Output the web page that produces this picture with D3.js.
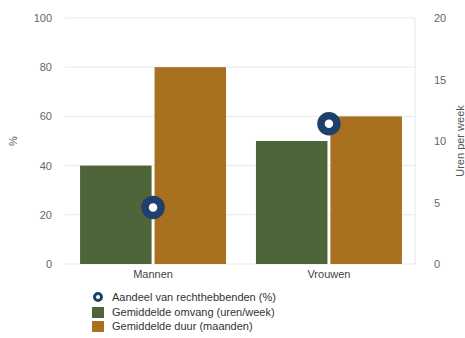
<!DOCTYPE html>
<html>
<head>
<script src="https://d3js.org/d3.v7.min.js"></script>
<style>
  body { margin: 0; background: #fff; font-family: "Liberation Sans", Arial, sans-serif; }
</style>
</head>
<body>
<div id="chart"></div>
<script>
const categories = ["Mannen", "Vrouwen"];
const omvang = [8, 10];        // uren/week
const duur = [16, 12];         // maanden
const aandeel = [23, 57];      // %
const leftTicks = [0, 20, 40, 60, 80, 100];
const rightTicks = [0, 5, 10, 15, 20];
const legendLabels = ["Aandeel van rechthebbenden (%)", "Gemiddelde omvang (uren/week)", "Gemiddelde duur (maanden)"];

const width = 465, height = 338;
const margin = { top: 18, right: 50, bottom: 74, left: 63 };
const green = "#4e6539", orange = "#a8711f", blue = "#1f406c";

const svg = d3.select("#chart").append("svg")
    .attr("width", width).attr("height", height);

const x = d3.scaleBand().domain(categories)
    .range([margin.left + 3, width - margin.right + 1]).paddingInner(0.17).paddingOuter(0.08);
const yL = d3.scaleLinear().domain([0, 100]).range([height - margin.bottom, margin.top]);
const yR = d3.scaleLinear().domain([0, 20]).range([height - margin.bottom, margin.top]);
const sub = d3.scaleBand().domain([0, 1]).range([0, x.bandwidth()]).paddingInner(0.04);

// gridlines
svg.append("g").selectAll("line").data(leftTicks).enter().append("line")
    .attr("x1", margin.left + 2).attr("x2", width - margin.right)
    .attr("y1", d => yL(d)).attr("y2", d => yL(d))
    .attr("stroke", "#e9e9e9").attr("stroke-width", 1);
svg.append("line")
    .attr("x1", width - margin.right).attr("x2", width - margin.right)
    .attr("y1", margin.top).attr("y2", height - margin.bottom)
    .attr("stroke", "#e6e6e6");

// axes
const axL = svg.append("g").attr("transform", "translate(" + margin.left + ",0)")
    .call(d3.axisLeft(yL).tickValues(leftTicks).tickSize(0).tickPadding(11));
const axR = svg.append("g").attr("transform", "translate(" + (width - margin.right) + ",0)")
    .call(d3.axisRight(yR).tickValues(rightTicks).tickSize(0).tickPadding(19));
[axL, axR].forEach(a => {
    a.select(".domain").remove();
    a.selectAll("text").attr("fill", "#666").style("font-size", "11px")
        .style("font-family", "Liberation Sans, Arial, sans-serif");
});

// bars
const g = svg.append("g");
categories.forEach((c, i) => {
    g.append("rect").attr("x", x(c) + sub(0)).attr("width", sub.bandwidth())
        .attr("y", yR(omvang[i])).attr("height", yR(0) - yR(omvang[i])).attr("fill", green);
    g.append("rect").attr("x", x(c) + sub(1)).attr("width", sub.bandwidth())
        .attr("y", yR(duur[i])).attr("height", yR(0) - yR(duur[i])).attr("fill", orange);
});

// dots
svg.append("g").selectAll("circle").data(categories).enter().append("circle")
    .attr("cx", d => x(d) + x.bandwidth() / 2)
    .attr("cy", (d, i) => yL(aandeel[i]))
    .attr("r", 8).attr("fill", "#fff").attr("stroke", blue).attr("stroke-width", 7.5);

// category labels
svg.append("g").selectAll("text").data(categories).enter().append("text")
    .attr("x", d => x(d) + x.bandwidth() / 2).attr("y", height - margin.bottom + 14)
    .attr("text-anchor", "middle").attr("fill", "#444").style("font-size", "11px")
    .text(d => d);

// axis titles
svg.append("text").attr("transform", "translate(17,141) rotate(-90)")
    .attr("text-anchor", "middle").attr("fill", "#555").style("font-size", "11px").text("%");
svg.append("text").attr("transform", "translate(464,141) rotate(-90)")
    .attr("text-anchor", "middle").attr("fill", "#555").style("font-size", "11px").text("Uren per week");

// legend
const leg = svg.append("g").attr("transform", "translate(92,292)");
leg.append("circle").attr("cx", 6).attr("cy", 5).attr("r", 3.5)
    .attr("fill", "#fff").attr("stroke", blue).attr("stroke-width", 3);
leg.append("rect").attr("x", 0).attr("y", 15).attr("width", 12).attr("height", 11).attr("fill", green);
leg.append("rect").attr("x", 0).attr("y", 29).attr("width", 12).attr("height", 11).attr("fill", orange);
leg.selectAll("text").data(legendLabels).enter().append("text")
    .attr("x", 20).attr("y", (d, i) => 9 + i * 14.5)
    .attr("fill", "#333").style("font-size", "11px").text(d => d);
</script>
</body>
</html>
